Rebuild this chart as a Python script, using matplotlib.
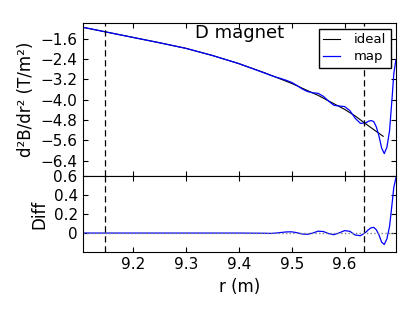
import numpy as np
import matplotlib
matplotlib.use("Agg")
import matplotlib.pyplot as plt
from matplotlib.ticker import FuncFormatter

# valeurs
r_ideal = [9.105, 9.15, 9.20, 9.25, 9.30, 9.35, 9.40, 9.45, 9.50, 9.55,
           9.60, 9.62, 9.64, 9.66, 9.673]
d2b_ideal = [-1.15, -1.34, -1.55, -1.76, -1.98, -2.26, -2.58, -2.95, -3.36, -3.83,
             -4.38, -4.64, -4.95, -5.25, -5.44]

r_map = [9.105, 9.15, 9.20, 9.25, 9.30, 9.35, 9.40, 9.45, 9.46, 9.47,
         9.48, 9.49, 9.50, 9.51, 9.52, 9.53, 9.54, 9.55, 9.56, 9.57,
         9.58, 9.59, 9.60, 9.61, 9.62, 9.63, 9.64, 9.645, 9.65, 9.655,
         9.66, 9.665, 9.67, 9.675, 9.68, 9.685, 9.69, 9.693, 9.697]
d2b_map = [-1.15, -1.34, -1.55, -1.76, -1.98, -2.26, -2.58, -2.96, -3.04, -3.11,
           -3.17, -3.24, -3.32, -3.44, -3.58, -3.68, -3.73, -3.75, -3.87, -4.06,
           -4.22, -4.25, -4.27, -4.43, -4.73, -4.93, -4.91, -4.85, -4.82, -4.86,
           -5.07, -5.43, -5.90, -6.12, -5.87, -5.22, -3.87, -2.98, -2.43]
diff = [0.0, 0.0, 0.0, 0.0, 0.0, 0.0, 0.0, -0.002, -0.004, 0.0,
        0.006, 0.012, 0.013, 0.004, -0.010, -0.013, 0.0, 0.020, 0.016, -0.006,
        -0.017, 0.002, 0.026, 0.018, -0.020, -0.028, 0.008, 0.035, 0.055, 0.060,
        0.035, -0.020, -0.095, -0.120, -0.060, 0.070, 0.320, 0.480, 0.580]

r_limites = [9.148, 9.637]

plt.rcParams["xtick.direction"] = "in"
plt.rcParams["ytick.direction"] = "in"
plt.rcParams["xtick.top"] = True
plt.rcParams["ytick.right"] = True
plt.rcParams["font.size"] = 11

fig = plt.figure(figsize=(4.15, 3.12), dpi=100)
ax1 = fig.add_axes([0.199, 0.436, 0.755, 0.489])
ax2 = fig.add_axes([0.199, 0.192, 0.755, 0.244], sharex=ax1)

tirets = (0, (5, 3))

# panneau du haut
ax1.plot(r_ideal, d2b_ideal, color="black", lw=0.8, label="ideal")
ax1.plot(r_map, d2b_map, color="blue", lw=0.9, label="map")
for r in r_limites:
    ax1.axvline(r, color="black", ls=tirets, lw=0.9)
ax1.set_ylim(-7.0, -1.0)
ax1.set_yticks([-6.4, -5.6, -4.8, -4.0, -3.2, -2.4, -1.6])
ax1.set_ylabel("d\u00b2B/dr\u00b2 (T/m\u00b2)", fontsize=12)
ax1.text(0.5, 0.936, "D magnet", transform=ax1.transAxes, ha="center", va="center", fontsize=13)
leg = ax1.legend(loc="upper right", fontsize=9.5, handlelength=1.3, handletextpad=1.0,
                 borderaxespad=0.4, borderpad=0.35, labelspacing=0.3,
                 fancybox=False, framealpha=1)
leg.get_frame().set_edgecolor("black")
plt.setp(ax1.get_xticklabels(), visible=False)

# panneau du bas
ax2.plot(r_map, diff, color="blue", lw=0.9)
ax2.axhline(0, color="grey", ls=":", lw=1)
for r in r_limites:
    ax2.axvline(r, color="black", ls=tirets, lw=0.9)
ax2.set_ylim(-0.2, 0.6)
ax2.set_yticks([0, 0.2, 0.4, 0.6])
ax2.yaxis.set_major_formatter(FuncFormatter(lambda v, p: "0" if v == 0 else f"{v:.1f}"))
ax2.set_xlim(9.105, 9.697)
ax2.set_xticks([9.2, 9.3, 9.4, 9.5, 9.6])
ax2.set_xlabel("r (m)", fontsize=12)
ax2.set_ylabel("Diff", fontsize=12)

fig.savefig("out.png", dpi=100)
